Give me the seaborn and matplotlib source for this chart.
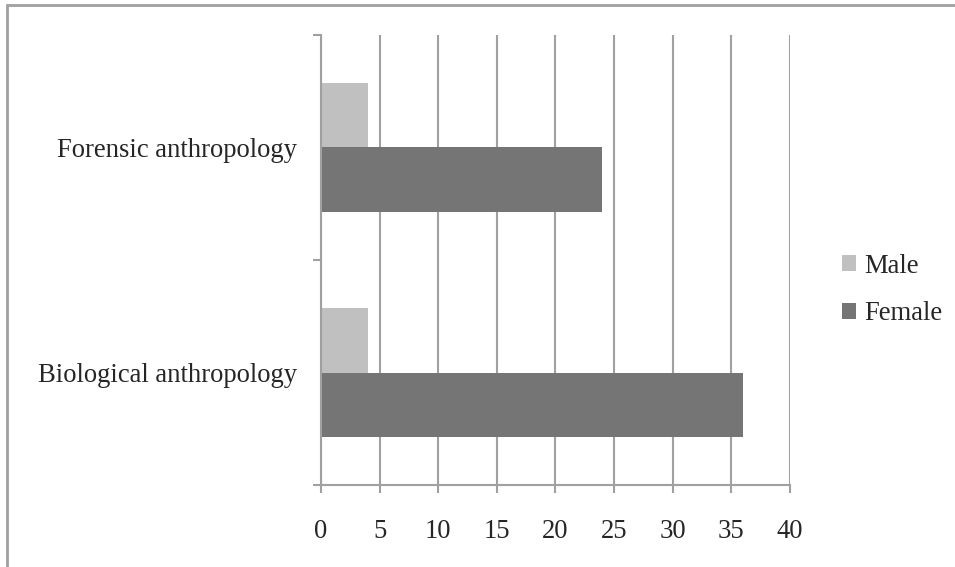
import matplotlib
matplotlib.use("Agg")
import matplotlib.pyplot as plt
from matplotlib.patches import Rectangle
import seaborn as sns
import pandas as pd

# -----------------------------------
# Data
# -----------------------------------
categories = ["Forensic anthropology", "Biological anthropology"]
sexes = ["Male", "Female"]
male = [4, 4]
female = [24, 36]
x_ticks = [0, 5, 10, 15, 20, 25, 30, 35, 40]

df = pd.DataFrame({
    "Field": categories * 2,
    "Sex": ["Male"] * len(categories) + ["Female"] * len(categories),
    "Count": male + female,
})

# -----------------------------------
# Style
# -----------------------------------
sns.set_theme(style="white")
plt.rcParams["font.family"] = ["Liberation Serif", "DejaVu Serif"]

GRID = "#a0a0a0"
FS = 19.2

fig = plt.figure(figsize=(9.55, 5.67), dpi=100)
ax = fig.add_axes([0.3361, 0.1446, 0.4911, 0.7937])

sns.barplot(
    data=df,
    y="Field",
    x="Count",
    hue="Sex",
    order=categories,
    hue_order=sexes,
    palette=["#c0c0c0", "#757575"],
    width=0.57,
    orient="h",
    linewidth=0,
    saturation=1,
    ax=ax,
)

ax.set_xlim(0, 40)
ax.set_ylim(1.5, -0.5)
ax.set_xticks(x_ticks)
ax.set_xticklabels([str(v) for v in x_ticks], fontsize=FS)
ax.set_yticks([0, 1])
ax.set_yticklabels(categories, fontsize=FS)
ax.set_yticks([-0.5, 0.5, 1.5], minor=True)
ax.set_xlabel("")
ax.set_ylabel("")

ax.tick_params(axis="y", which="major", length=0, pad=17)
ax.tick_params(axis="y", which="minor", length=5.8, width=1.5, color=GRID, direction="out", left=True)
ax.tick_params(axis="x", length=5.8, width=1.5, color=GRID, direction="out", bottom=True, pad=19)

ax.xaxis.grid(True, color=GRID, linewidth=1.5)
ax.set_axisbelow(True)

for side in ["top", "right"]:
    ax.spines[side].set_visible(False)
for side in ["left", "bottom"]:
    ax.spines[side].set_color(GRID)
    ax.spines[side].set_linewidth(1.5)

# legend to the right
handles, labels = ax.get_legend_handles_labels()
ax.legend_.remove()
fig.legend(
    handles, labels,
    loc="center left",
    bbox_to_anchor=(842 / 955, 1 - 290 / 567),
    frameon=False,
    fontsize=FS,
    handlelength=0.52,
    handleheight=0.52,
    handletextpad=0.33,
    labelspacing=0.85,
    borderpad=0,
    borderaxespad=0,
)

# outer chart frame (cropped on right and bottom)
fig.patches.append(Rectangle(
    (7 / 955, -0.2), 1.1, 1.2 - 5 / 567,
    transform=fig.transFigure, fill=False,
    edgecolor=GRID, linewidth=2, zorder=0,
))

fig.savefig("out.png", dpi=100)
